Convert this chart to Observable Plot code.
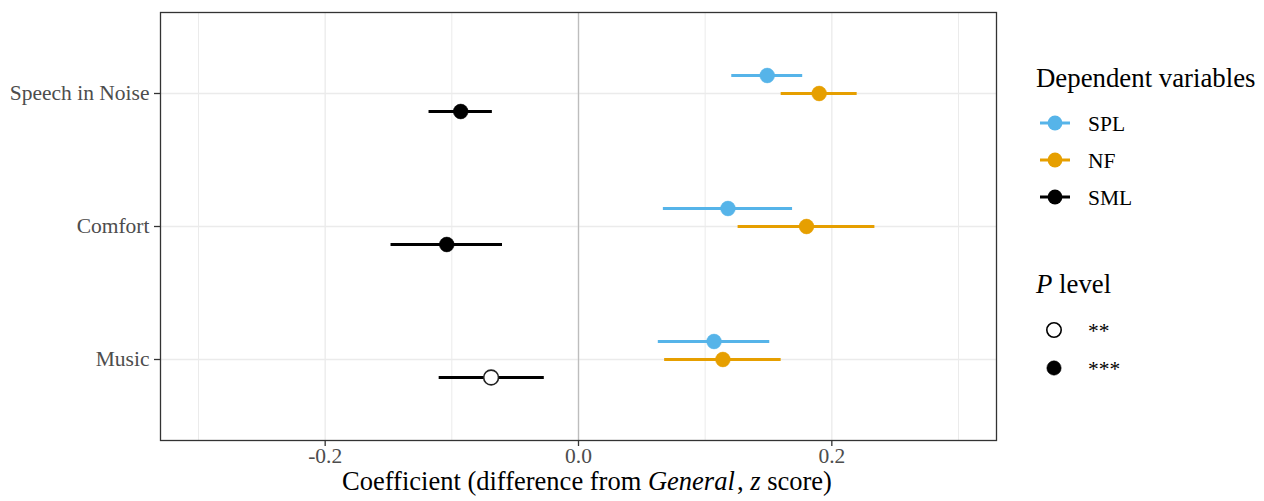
<!DOCTYPE html>
<html><head><meta charset="utf-8">
<script src="https://cdn.jsdelivr.net/npm/d3@7"></script>
<script src="https://cdn.jsdelivr.net/npm/@observablehq/plot@0.6"></script>
<style>
html,body{margin:0;padding:0;background:#fff;}
#wrap{position:relative;width:1264px;height:501px;font-family:"Liberation Serif","Times New Roman",serif;}
#wrap svg.overlay{position:absolute;left:0;top:0;pointer-events:none;}
</style></head><body><div id="wrap"></div>
<script>
// ---- data ----
const categories = ["Speech in Noise", "Comfort", "Music"];
const seriesNames = ["SPL", "NF", "SML"];
const seriesColors = ["#56B4E9", "#E69F00", "#000000"];
// estimates and 95% CI per category (order as categories)
const splEst = [0.149, 0.118, 0.107];
const splLo  = [0.121, 0.067, 0.063];
const splHi  = [0.177, 0.169, 0.151];
const nfEst  = [0.190, 0.180, 0.114];
const nfLo   = [0.160, 0.126, 0.068];
const nfHi   = [0.220, 0.234, 0.160];
const smlEst = [-0.093, -0.104, -0.069];
const smlLo  = [-0.118, -0.148, -0.110];
const smlHi  = [-0.068, -0.060, -0.027];
const splP = ["***", "***", "***"];
const nfP  = ["***", "***", "***"];
const smlP = ["***", "***", "**"];
const pLevels = ["**", "***"];
const xTicks = [-0.2, 0, 0.2];
const xMinor = [-0.3, -0.1, 0.1, 0.3];

const seriesData = {
  SPL: {est: splEst, lo: splLo, hi: splHi, p: splP},
  NF:  {est: nfEst,  lo: nfLo,  hi: nfHi,  p: nfP},
  SML: {est: smlEst, lo: smlLo, hi: smlHi, p: smlP}
};
const rows = [];
seriesNames.forEach((s, si) => {
  categories.forEach((c, ci) => {
    const d = seriesData[s];
    rows.push({series: s, color: seriesColors[si], cat: c, est: d.est[ci], lo: d.lo[ci], hi: d.hi[ci], p: d.p[ci]});
  });
});
const dodge = {SPL: -18, NF: 0, SML: 18};

const marks = [
  Plot.ruleY(categories, {stroke: "#ebebeb", strokeWidth: 1.3}),
  Plot.ruleX(xMinor, {stroke: "#ebebeb", strokeWidth: 1}),
  Plot.ruleX(xTicks, {stroke: "#ebebeb", strokeWidth: 1.3}),
  Plot.ruleX([0], {stroke: "#bdbdbd", strokeWidth: 1.3})
];
seriesNames.forEach((s, si) => {
  const data = rows.filter(r => r.series === s);
  marks.push(Plot.ruleY(data, {y: "cat", x1: "lo", x2: "hi", stroke: seriesColors[si], strokeWidth: 3, dy: dodge[s]}));
  marks.push(Plot.dot(data, {x: "est", y: "cat", r: 7.4, dy: dodge[s],
    fill: d => d.p === "***" ? seriesColors[si] : "white",
    stroke: d => d.p === "***" ? seriesColors[si] : "#222",
    strokeWidth: d => d.p === "***" ? 0.5 : 1.6}));
});
marks.push(Plot.frame({stroke: "#333", strokeWidth: 1.3}));
marks.push(Plot.axisY({tickSize: 6, tickPadding: 5, fill: "#4d4d4d", stroke: "#333", strokeWidth: 1.3, label: null, fontSize: 21.5}));
marks.push(Plot.axisX({ticks: xTicks, tickFormat: d => d.toFixed(1), tickSize: 6, tickPadding: 1, fill: "#4d4d4d", stroke: "#333", strokeWidth: 1.3, label: null, fontSize: 21.5}));

const plot = Plot.plot({
  width: 1264, height: 501,
  marginLeft: 160, marginRight: 268, marginTop: 12, marginBottom: 61,
  x: {domain: [-0.33, 0.33]},
  y: {type: "point", domain: categories, padding: 0.6},
  style: {fontFamily: "'Liberation Serif', 'Times New Roman', serif", fontSize: "21.5px", background: "white"},
  marks
});
const wrap = document.getElementById("wrap");
wrap.appendChild(plot);

// ---- overlay: axis title and legends ----
const ov = d3.select(wrap).append("svg").attr("class", "overlay").attr("width", 1264).attr("height", 501)
  .style("font-family", "'Liberation Serif', 'Times New Roman', serif");

const xt = ov.append("text").attr("x", 587).attr("y", 490).attr("text-anchor", "middle")
  .attr("font-size", 26.5).attr("fill", "#000");
xt.append("tspan").text("Coefficient (difference from ");
xt.append("tspan").attr("font-style", "italic").text("General");
xt.append("tspan").text("\u200A, ");
xt.append("tspan").attr("font-style", "italic").text("z");
xt.append("tspan").text(" score)");

// legend 1
ov.append("text").attr("x", 1036).attr("y", 87).attr("font-size", 26.8).attr("fill", "#000").text("Dependent variables");
const keyY = [123, 160, 197];
seriesNames.forEach((s, i) => {
  const g = ov.append("g");
  g.append("line").attr("x1", 1040).attr("x2", 1070).attr("y1", keyY[i]).attr("y2", keyY[i])
    .attr("stroke", seriesColors[i]).attr("stroke-width", 3);
  g.append("circle").attr("cx", 1055).attr("cy", keyY[i]).attr("r", 7.4).attr("fill", seriesColors[i]);
  g.append("text").attr("x", 1088).attr("y", keyY[i]).attr("dy", "0.35em").attr("font-size", 21.5).attr("fill", "#000").text(s);
});

// legend 2
const pt = ov.append("text").attr("x", 1036).attr("y", 293).attr("font-size", 26.8).attr("fill", "#000");
pt.append("tspan").attr("font-style", "italic").text("P");
pt.append("tspan").text(" level");
const pY = [330, 368];
pLevels.forEach((p, i) => {
  ov.append("circle").attr("cx", 1054).attr("cy", pY[i]).attr("r", 7.2)
    .attr("fill", p === "***" ? "#000" : "white").attr("stroke", "#000").attr("stroke-width", p === "***" ? 0.5 : 1.6);
  ov.append("text").attr("x", 1088).attr("y", pY[i]).attr("dy", "0.35em").attr("font-size", 21.5).attr("fill", "#000").text(p);
});
</script></body></html>
